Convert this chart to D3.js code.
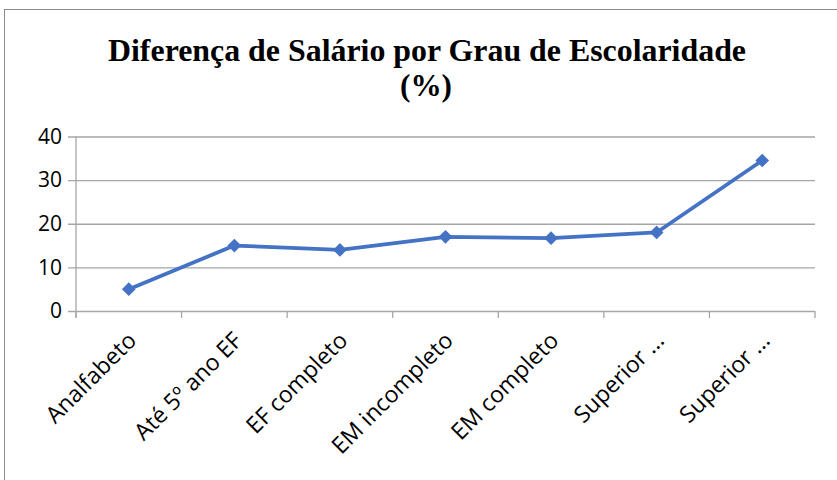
<!DOCTYPE html>
<html>
<head>
<meta charset="utf-8">
<script src="https://cdn.jsdelivr.net/npm/d3@7"></script>
<style>
  body { margin: 0; background: #fff; }
</style>
</head>
<body>
<div id="chart"></div>
<script>
// chart data
var categories = ["Analfabeto", "Até 5º ano EF", "EF completo", "EM incompleto", "EM completo", "Superior ...", "Superior ..."];
var values = [5, 15, 14, 17, 16.7, 18, 34.5];
var yTicks = [0, 10, 20, 30, 40];

var width = 837, height = 480;
var svg = d3.select("#chart").append("svg")
  .attr("width", width)
  .attr("height", height);

// outer frame
svg.append("rect")
  .attr("x", 4.5).attr("y", 9.5)
  .attr("width", 840).attr("height", 480)
  .attr("fill", "#fff")
  .attr("stroke", "#8c8c8c");

// title
var title = svg.append("text")
  .attr("text-anchor", "middle")
  .style("font-family", "'Liberation Serif', 'Times New Roman', serif")
  .style("font-weight", "bold")
  .style("font-size", "32px")
  .attr("fill", "#000");
title.append("tspan").attr("x", 427).attr("y", 61)
  .attr("textLength", 638).attr("lengthAdjust", "spacingAndGlyphs")
  .text("Diferença de Salário por Grau de Escolaridade");
title.append("tspan").attr("x", 426).attr("y", 96)
  .attr("textLength", 52).attr("lengthAdjust", "spacingAndGlyphs")
  .text("(%)");

var plotLeft = 76, plotRight = 815, plotTop = 136.5, plotBottom = 311;

var x = d3.scaleBand().domain(d3.range(categories.length)).range([plotLeft, plotRight]);
var y = d3.scaleLinear().domain([0, 40]).range([plotBottom, plotTop]);

// gridlines + y axis
var yAxis = svg.append("g")
  .attr("transform", "translate(" + plotLeft + ",0)")
  .call(d3.axisLeft(y).tickValues(yTicks).tickSize(-(plotRight - plotLeft)).tickPadding(14));
yAxis.select(".domain").remove();
yAxis.selectAll(".tick line")
  .attr("x1", -8)
  .attr("stroke", "#a6a6a6").attr("stroke-width", 1.3);
yAxis.selectAll(".tick text")
  .style("font-family", "'Open Sans', sans-serif")
  .style("font-size", "21px")
  .attr("fill", "#000");

// vertical axis line
svg.append("line")
  .attr("x1", plotLeft).attr("x2", plotLeft)
  .attr("y1", plotTop).attr("y2", plotBottom + 7)
  .attr("stroke", "#a6a6a6").attr("stroke-width", 1.3);

// x axis boundary ticks
var bounds = d3.range(categories.length + 1).map(function(i) {
  return i < categories.length ? x(i) : plotRight;
});
svg.selectAll(".xtick").data(bounds).enter().append("line")
  .attr("x1", function(d) { return d; }).attr("x2", function(d) { return d; })
  .attr("y1", plotBottom).attr("y2", plotBottom + 7)
  .attr("stroke", "#a6a6a6").attr("stroke-width", 1.3);

// category labels
svg.selectAll(".xlab").data(categories).enter().append("text")
  .attr("text-anchor", "end")
  .attr("transform", function(d, i) {
    return "translate(" + (x(i) + x.bandwidth() / 2 + 9) + "," + (plotBottom + 31) + ") rotate(-45)";
  })
  .style("font-family", "'Open Sans', sans-serif")
  .style("font-size", "23px")
  .attr("fill", "#000")
  .text(function(d) { return d; });

// line
var line = d3.line()
  .x(function(d, i) { return x(i) + x.bandwidth() / 2; })
  .y(function(d) { return y(d); });

svg.append("path")
  .datum(values)
  .attr("d", line)
  .attr("fill", "none")
  .attr("stroke", "#4472c4")
  .attr("stroke-width", 3.8)
  .attr("stroke-linejoin", "round");

// diamond markers
svg.selectAll(".pt").data(values).enter().append("path")
  .attr("d", d3.symbol().type(d3.symbolDiamond2).size(120))
  .attr("transform", function(d, i) {
    return "translate(" + (x(i) + x.bandwidth() / 2) + "," + y(d) + ")";
  })
  .attr("fill", "#4472c4");
</script>
</body>
</html>
